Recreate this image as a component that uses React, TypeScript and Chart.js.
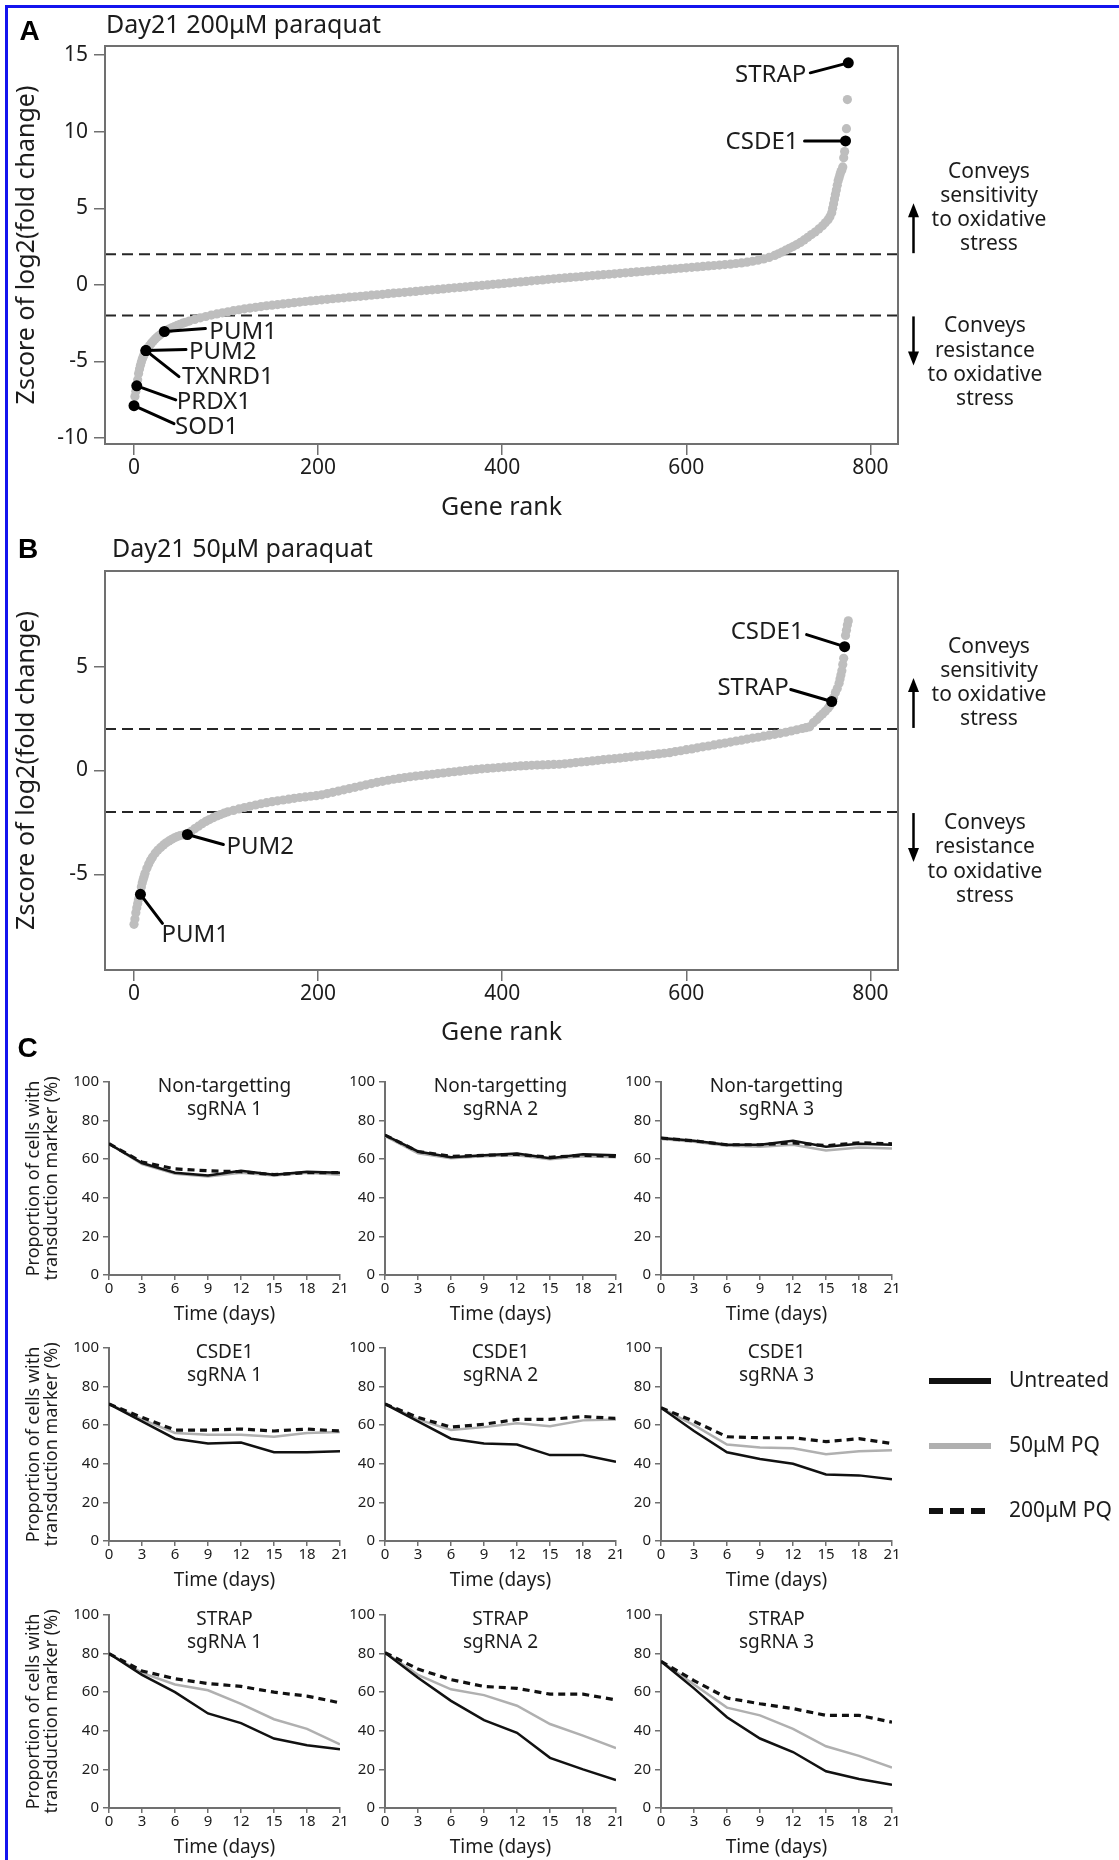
import React, { useEffect, useRef } from 'react';
import { Chart, registerables } from 'chart.js';

Chart.register(...registerables);

const FONT = '"Noto Sans", "DejaVu Sans", sans-serif';
const LETTER_FONT = '"Liberation Sans", Arial, sans-serif';
const INK = '#1c1c1c';
const AXIS_GREY = '#707070';
const POINT_GREY = '#bebebe';
const FRAME_BLUE = '#1414ee';

// ---------------- Panel A: Day21 200uM paraquat (gene rank, z-score) ----------------
const genesA: [number, number][] = [
  [1, -7.3], [2, -6.95], [4, -6.2], [5, -5.8], [6, -5.5], [7, -5.25], [8, -5.05], [9, -4.85],
  [10, -4.7], [11, -4.55], [12, -4.42], [14, -4.22], [15, -4.12], [17, -3.96], [19, -3.81],
  [21, -3.67], [23, -3.54], [25, -3.43], [27, -3.33], [29, -3.23], [31, -3.14], [35, -2.98],
  [38, -2.89], [41, -2.81], [44, -2.73], [47, -2.65], [50, -2.58], [53, -2.51], [56, -2.45],
  [60, -2.37], [66, -2.26], [72, -2.16], [78, -2.07], [84, -1.98], [90, -1.9], [96, -1.83],
  [102, -1.76], [108, -1.69], [114, -1.63], [120, -1.57], [126, -1.52], [132, -1.47],
  [138, -1.42], [144, -1.37], [150, -1.33], [156, -1.29], [162, -1.25], [168, -1.21],
  [174, -1.17], [180, -1.13], [186, -1.09], [192, -1.05], [198, -1.02], [204, -0.98],
  [210, -0.95], [216, -0.91], [222, -0.88], [228, -0.85], [234, -0.81], [240, -0.78],
  [246, -0.75], [252, -0.72], [258, -0.68], [264, -0.65], [270, -0.62], [276, -0.58],
  [282, -0.55], [288, -0.52], [294, -0.49], [300, -0.46], [306, -0.43], [312, -0.39],
  [318, -0.36], [324, -0.33], [330, -0.3], [336, -0.27], [342, -0.23], [348, -0.2],
  [354, -0.17], [360, -0.14], [366, -0.1], [372, -0.07], [378, -0.04], [384, -0.01],
  [390, 0.03], [396, 0.06], [402, 0.09], [408, 0.12], [414, 0.16], [420, 0.19], [426, 0.22],
  [432, 0.26], [438, 0.29], [444, 0.32], [450, 0.36], [456, 0.39], [462, 0.42], [468, 0.45],
  [474, 0.48], [480, 0.51], [486, 0.54], [492, 0.57], [498, 0.6], [504, 0.63], [510, 0.66],
  [516, 0.69], [522, 0.72], [528, 0.75], [534, 0.78], [540, 0.81], [546, 0.84], [552, 0.87],
  [558, 0.9], [564, 0.93], [570, 0.96], [576, 0.99], [582, 1.02], [588, 1.05], [594, 1.08],
  [600, 1.11], [606, 1.14], [612, 1.17], [618, 1.2], [624, 1.23], [630, 1.26], [636, 1.29],
  [642, 1.32], [648, 1.35], [654, 1.39], [660, 1.43], [666, 1.48], [672, 1.54], [678, 1.61],
  [684, 1.69], [690, 1.79], [696, 1.92], [700, 2.03], [704, 2.14], [708, 2.26], [712, 2.38],
  [716, 2.5], [720, 2.63], [724, 2.77], [728, 2.93], [732, 3.1], [736, 3.28], [740, 3.45],
  [744, 3.65], [748, 3.85], [751, 4.05], [754, 4.25], [756, 4.45], [758, 4.7], [759, 5.0],
  [760, 5.3], [761, 5.6], [762, 5.9], [763, 6.2], [764, 6.5], [765, 6.8], [766, 7.0],
  [767, 7.2], [768, 7.4], [769, 7.5], [770, 7.7], [771, 8.3], [772, 8.7], [774, 10.2], [775, 12.1],
];
const hitNamesA = ['SOD1', 'PRDX1', 'TXNRD1', 'PUM2', 'PUM1', 'CSDE1', 'STRAP'];
const hitRanksA = [0, 3, 13, 13, 33, 773, 776];
const hitZA = [-7.9, -6.6, -4.3, -4.3, -3.05, 9.4, 14.5];

// ---------------- Panel B: Day21 50uM paraquat ----------------
const genesB: [number, number][] = [
  [0, -7.4], [1, -7.15], [2, -6.85], [3, -6.6], [4, -6.4], [5, -6.2], [6, -6.05], [8, -5.6],
  [9, -5.4], [10, -5.25], [11, -5.1], [12, -4.95], [14, -4.7], [16, -4.5], [18, -4.32],
  [20, -4.17], [23, -3.98], [26, -3.83], [29, -3.7], [32, -3.58], [35, -3.48], [38, -3.39],
  [41, -3.31], [44, -3.24], [47, -3.18], [50, -3.13], [54, -3.1], [62, -2.93], [66, -2.8],
  [70, -2.68], [74, -2.56], [78, -2.45], [82, -2.36], [86, -2.27], [90, -2.19], [94, -2.12],
  [98, -2.05], [102, -1.99], [108, -1.92], [114, -1.85], [120, -1.78], [126, -1.72],
  [132, -1.66], [138, -1.6], [144, -1.55], [150, -1.5], [156, -1.46], [162, -1.42],
  [168, -1.38], [174, -1.34], [180, -1.3], [186, -1.27], [192, -1.24], [198, -1.21],
  [204, -1.17], [210, -1.11], [216, -1.05], [222, -0.99], [228, -0.93], [234, -0.87],
  [240, -0.81], [246, -0.75], [252, -0.69], [258, -0.63], [264, -0.57], [270, -0.52],
  [276, -0.47], [282, -0.42], [288, -0.38], [294, -0.34], [300, -0.3], [306, -0.27],
  [312, -0.24], [318, -0.21], [324, -0.18], [330, -0.15], [336, -0.12], [342, -0.09],
  [348, -0.06], [354, -0.03], [360, 0.0], [366, 0.03], [372, 0.05], [378, 0.08], [384, 0.1],
  [390, 0.12], [396, 0.14], [402, 0.16], [408, 0.18], [414, 0.2], [420, 0.22], [426, 0.23],
  [432, 0.25], [438, 0.26], [444, 0.27], [450, 0.28], [456, 0.29], [462, 0.3], [468, 0.32],
  [474, 0.35], [480, 0.38], [486, 0.41], [492, 0.43], [498, 0.46], [504, 0.49], [510, 0.52],
  [516, 0.55], [522, 0.57], [528, 0.6], [534, 0.63], [540, 0.66], [546, 0.69], [552, 0.71],
  [558, 0.74], [564, 0.77], [570, 0.8], [576, 0.83], [582, 0.86], [588, 0.91], [594, 0.95],
  [600, 1.0], [606, 1.04], [612, 1.09], [618, 1.14], [624, 1.18], [630, 1.23], [636, 1.28],
  [642, 1.32], [648, 1.37], [654, 1.42], [660, 1.46], [666, 1.51], [672, 1.56], [678, 1.6],
  [684, 1.65], [690, 1.7], [696, 1.74], [702, 1.79], [708, 1.84], [714, 1.9], [720, 1.96],
  [726, 2.02], [730, 2.06], [734, 2.1], [738, 2.3], [742, 2.45], [745, 2.6], [748, 2.72],
  [751, 2.85], [754, 3.0], [756, 3.12], [760, 3.5], [762, 3.75], [764, 3.95], [766, 4.2],
  [767, 4.4], [768, 4.6], [769, 4.8], [770, 5.1], [771, 5.4], [773, 6.5], [774, 6.75],
  [775, 7.0], [776, 7.2],
];
const hitNamesB = ['PUM1', 'PUM2', 'STRAP', 'CSDE1'];
const hitRanksB = [7, 58, 758, 772];
const hitZB = [-5.96, -3.08, 3.32, 5.96];

const THRESHOLDS = [2, -2];
const SENSITIVITY_NOTE = ['Conveys', 'sensitivity', 'to oxidative', 'stress'];
const RESISTANCE_NOTE = ['Conveys', 'resistance', 'to oxidative', 'stress'];

// ---------------- Panel C: proportion of transduced cells over time ----------------
const DAYS = [0, 3, 6, 9, 12, 15, 18, 21];
const TARGETS = ['Non-targetting', 'CSDE1', 'STRAP'];
const GUIDES = ['sgRNA 1', 'sgRNA 2', 'sgRNA 3'];
const LEGEND_LABELS = ['Untreated', '50μM PQ', '200μM PQ'];
// order: NT1, NT2, NT3, CSDE1-1, CSDE1-2, CSDE1-3, STRAP-1, STRAP-2, STRAP-3
const UNTREATED = [
  [68, 58, 53, 51.5, 54, 52, 53.5, 53],
  [72.5, 64, 61, 62, 63, 60.5, 62.5, 62],
  [71, 69.5, 67.5, 67.5, 69.5, 66.5, 68, 67.5],
  [71, 62, 53, 50.5, 51, 46, 46, 46.5],
  [71, 62, 53, 50.5, 50, 44.5, 44.5, 41],
  [69, 57, 46, 42.5, 40, 34.5, 34, 32],
  [80, 69, 60, 49, 44, 36, 32.5, 30.5],
  [80.5, 67.5, 55.5, 45.5, 39, 26, 20, 14.5],
  [76, 62, 47, 36, 29, 19, 15, 12],
];
const PQ50 = [
  [68, 57.5, 52.5, 51, 53, 51.5, 53, 52],
  [72, 63, 60.5, 61.5, 62, 60, 61.5, 61],
  [70.5, 69, 67, 66.5, 67.5, 64.5, 66, 65.5],
  [71, 63, 56, 55, 55, 54, 56, 56.5],
  [71, 63, 57.5, 59, 61, 59.5, 62.5, 63],
  [69, 60, 50, 48.5, 48, 45, 46.5, 47],
  [80, 70, 64, 61, 54, 46, 41, 33],
  [80.5, 69, 61.5, 58.5, 53, 43.5, 37.5, 31],
  [76, 64, 52, 48, 41, 32, 27, 21],
];
const PQ200 = [
  [68, 58.5, 55, 54, 53.5, 52, 53, 53],
  [72.5, 64, 61.5, 62, 62.5, 61, 62, 61.5],
  [71, 69.5, 67.5, 67.5, 68.5, 67, 68.5, 68],
  [71, 64, 57.5, 57.5, 58, 57, 58, 57],
  [71, 64, 59, 60.5, 63, 63, 64.5, 63.5],
  [69, 62, 54, 53.5, 53.5, 51.5, 53, 50.5],
  [80, 71, 67, 64.5, 63, 60, 58, 54.5],
  [80.5, 72, 66.5, 63, 62, 59, 59, 56],
  [76, 66, 57, 54, 51.5, 48, 48, 44.5],
];

// ---------------- label placement (pixel offsets from the marked point) ----------------
type LabelStyle = { lx: number; ly: number; tx: number; ty: number; align: 'left' | 'right' };
const LABELS_A: Record<string, LabelStyle> = {
  SOD1: { lx: 40, ly: 18, tx: 41, ty: 21, align: 'left' },
  PRDX1: { lx: 39, ly: 14, tx: 40, ty: 16, align: 'left' },
  TXNRD1: { lx: 33, ly: 26, tx: 36, ty: 27, align: 'left' },
  PUM2: { lx: 40, ly: -1, tx: 43, ty: 2, align: 'left' },
  PUM1: { lx: 41, ly: -3, tx: 45, ty: 1, align: 'left' },
  CSDE1: { lx: -41, ly: 0, tx: -47, ty: 1, align: 'right' },
  STRAP: { lx: -38, ly: 10, tx: -42, ty: 12, align: 'right' },
};
const LABELS_B: Record<string, LabelStyle> = {
  PUM1: { lx: 22, ly: 29, tx: 21, ty: 41, align: 'left' },
  PUM2: { lx: 36, ly: 10, tx: 39, ty: 13, align: 'left' },
  STRAP: { lx: -41, ly: -12, tx: -43, ty: -13, align: 'right' },
  CSDE1: { lx: -38, ly: -12, tx: -41, ty: -14, align: 'right' },
};

const W = 1119;
const H = 1860;

function drawArrow(ctx: CanvasRenderingContext2D, x: number, from: number, to: number) {
  const dir = Math.sign(to - from);
  ctx.strokeStyle = '#000';
  ctx.fillStyle = '#000';
  ctx.lineWidth = 2.5;
  ctx.setLineDash([]);
  ctx.beginPath();
  ctx.moveTo(x, from);
  ctx.lineTo(x, to - dir * 10);
  ctx.stroke();
  ctx.beginPath();
  ctx.moveTo(x, to);
  ctx.lineTo(x - 5.5, to - dir * 14);
  ctx.lineTo(x + 5.5, to - dir * 14);
  ctx.closePath();
  ctx.fill();
}

type ScatterPanel = {
  letter: string; letterX: number; letterBaseline: number;
  title: string; titleX: number; titleBaseline: number;
  padTop: number; xAxisHeight: number; xTitlePad: number;
  yMin: number; yMax: number;
  genes: [number, number][];
  hitNames: string[]; hitRanks: number[]; hitZ: number[];
  labels: Record<string, LabelStyle>;
};

function scatterConfig(p: ScatterPanel): any {
  const decor = {
    id: 'scatterDecor',
    beforeDatasetsDraw(chart: any) {
      const { ctx, chartArea: a, scales } = chart;
      ctx.save();
      ctx.strokeStyle = '#262626';
      ctx.lineWidth = 2;
      ctx.setLineDash([11, 6]);
      for (const t of THRESHOLDS) {
        const py = scales.y.getPixelForValue(t);
        ctx.beginPath();
        ctx.moveTo(a.left, py);
        ctx.lineTo(a.right, py);
        ctx.stroke();
      }
      ctx.restore();
    },
    afterDatasetsDraw(chart: any) {
      const { ctx, scales } = chart;
      ctx.save();
      ctx.strokeStyle = '#000';
      ctx.lineWidth = 3;
      ctx.lineCap = 'round';
      ctx.fillStyle = INK;
      ctx.font = `24px ${FONT}`;
      ctx.textBaseline = 'middle';
      p.hitNames.forEach((name, i) => {
        const px = scales.x.getPixelForValue(p.hitRanks[i]);
        const py = scales.y.getPixelForValue(p.hitZ[i]);
        const s = p.labels[name];
        ctx.beginPath();
        ctx.moveTo(px, py);
        ctx.lineTo(px + s.lx, py + s.ly);
        ctx.stroke();
        ctx.textAlign = s.align;
        ctx.fillText(name, px + s.tx, py + s.ty);
      });
      ctx.restore();
    },
    afterDraw(chart: any) {
      const { ctx, chartArea: a, scales } = chart;
      ctx.save();
      ctx.strokeStyle = AXIS_GREY;
      ctx.lineWidth = 2;
      ctx.strokeRect(a.left, a.top, a.right - a.left, a.bottom - a.top);
      ctx.fillStyle = '#000';
      ctx.font = `bold 28px ${LETTER_FONT}`;
      ctx.textAlign = 'center';
      ctx.textBaseline = 'alphabetic';
      ctx.fillText(p.letter, p.letterX, p.letterBaseline);
      ctx.fillStyle = INK;
      ctx.font = `25px ${FONT}`;
      ctx.textAlign = 'left';
      ctx.fillText(p.title, p.titleX, p.titleBaseline);
      const yUp = scales.y.getPixelForValue(THRESHOLDS[0]);
      const yDn = scales.y.getPixelForValue(THRESHOLDS[1]);
      const ax = a.right + 15.5;
      drawArrow(ctx, ax, yUp - 1, yUp - 51);
      drawArrow(ctx, ax, yDn + 1, yDn + 50);
      ctx.fillStyle = INK;
      ctx.font = `21px ${FONT}`;
      ctx.textAlign = 'center';
      ctx.textBaseline = 'middle';
      SENSITIVITY_NOTE.forEach((t, i) => ctx.fillText(t, a.right + 91, yUp - 82 + 24 * i));
      RESISTANCE_NOTE.forEach((t, i) => ctx.fillText(t, a.right + 87, yDn + 11 + 24.3 * i));
      ctx.restore();
    },
  };
  return {
    type: 'scatter',
    data: {
      datasets: [
        {
          label: 'Highlighted genes',
          data: p.hitRanks.map((r, i) => ({ x: r, y: p.hitZ[i] })),
          backgroundColor: '#000',
          borderWidth: 0,
          pointRadius: 5.5,
          order: 0,
        },
        {
          label: 'Genes',
          data: p.genes.map(([r, z]) => ({ x: r, y: z })),
          backgroundColor: POINT_GREY,
          borderWidth: 0,
          pointRadius: 4.6,
          order: 1,
        },
      ],
    },
    options: {
      animation: false,
      responsive: false,
      events: [],
      layout: { padding: { left: 10, top: p.padTop, right: W - 898, bottom: 0 } },
      plugins: { legend: { display: false }, tooltip: { enabled: false } },
      scales: {
        x: {
          type: 'linear',
          min: -31.5,
          max: 830,
          ticks: { stepSize: 200, includeBounds: false, font: { family: FONT, size: 21 }, color: INK, padding: 0, maxRotation: 0 },
          grid: { drawOnChartArea: false, drawTicks: true, tickLength: 11, color: AXIS_GREY, lineWidth: 1.5 },
          border: { display: false },
          title: { display: true, text: 'Gene rank', font: { family: FONT, size: 25 }, color: INK, padding: { top: 0, bottom: p.xTitlePad } },
          afterFit: (s: any) => { s.height = p.xAxisHeight; },
        },
        y: {
          type: 'linear',
          min: p.yMin,
          max: p.yMax,
          ticks: { stepSize: 5, includeBounds: false, font: { family: FONT, size: 21 }, color: INK, padding: 6 },
          grid: { drawOnChartArea: false, drawTicks: true, tickLength: 11, color: AXIS_GREY, lineWidth: 1.5 },
          border: { display: false },
          title: { display: true, text: 'Zscore of log2(fold change)', font: { family: FONT, size: 25 }, color: INK, padding: { top: 2, bottom: 0 } },
          afterFit: (s: any) => { s.width = 95; },
        },
      },
    },
    plugins: [decor],
  };
}

const PANEL_A: ScatterPanel = {
  letter: 'A', letterX: 29.5, letterBaseline: 40,
  title: 'Day21 200μM paraquat', titleX: 106, titleBaseline: 33,
  padTop: 46, xAxisHeight: 86, xTitlePad: 7,
  yMin: -10.4, yMax: 15.6,
  genes: genesA, hitNames: hitNamesA, hitRanks: hitRanksA, hitZ: hitZA, labels: LABELS_A,
};
const PANEL_B: ScatterPanel = {
  letter: 'B', letterX: 28, letterBaseline: 28,
  title: 'Day21 50μM paraquat', titleX: 112, titleBaseline: 27,
  padTop: 41, xAxisHeight: 90, xTitlePad: 12,
  yMin: -9.6, yMax: 9.6,
  genes: genesB, hitNames: hitNamesB, hitRanks: hitRanksB, hitZ: hitZB, labels: LABELS_B,
};

// ---------------- Panel C layout ----------------
const COL_X0 = [109, 385, 661];
const ROW_Y100 = [1082, 1348, 1615];
const C_PAD_TOP = 50;
const C_PLOT_H = 193;
const C_XAXIS_H = 53;

function lineConfig(idx: number, canvasTop: number): any {
  const row = Math.floor(idx / 3);
  const col = idx % 3;
  const series = (vals: number[]) => DAYS.map((d, i) => ({ x: d, y: vals[i] }));
  const decor = {
    id: 'subplotDecor',
    afterDraw(chart: any) {
      const { ctx, chartArea: a } = chart;
      ctx.save();
      ctx.fillStyle = INK;
      ctx.font = `19px ${FONT}`;
      ctx.textAlign = 'center';
      ctx.textBaseline = 'middle';
      const cx = (a.left + a.right) / 2;
      ctx.fillText(TARGETS[row], cx, a.top + 4.5);
      ctx.fillText(GUIDES[col], cx, a.top + 27.5);
      if (idx === 0) {
        ctx.fillStyle = '#000';
        ctx.font = `bold 28px ${LETTER_FONT}`;
        ctx.textBaseline = 'alphabetic';
        ctx.fillText('C', 27.5, 1057 - canvasTop);
      }
      if (idx === 5) {
        const mid = (a.top + a.bottom) / 2;
        const ys = [mid - 63.5, mid + 1.5, mid + 66.5];
        const x0 = a.right + 37;
        const colors = ['#111', '#b0b0b0', '#111'];
        ys.forEach((yy, i) => {
          ctx.strokeStyle = colors[i];
          ctx.lineWidth = 6;
          ctx.lineCap = 'butt';
          ctx.setLineDash(i === 2 ? [14, 7] : []);
          ctx.beginPath();
          ctx.moveTo(x0, yy);
          ctx.lineTo(i === 2 ? x0 + 56 : x0 + 62, yy);
          ctx.stroke();
          ctx.setLineDash([]);
          ctx.fillStyle = INK;
          ctx.font = `21px ${FONT}`;
          ctx.textAlign = 'left';
          ctx.textBaseline = 'middle';
          ctx.fillText(LEGEND_LABELS[i], a.right + 117, yy);
        });
      }
      ctx.restore();
    },
  };
  const canvasWidth = col === 2 ? W - (COL_X0[col] - 109) : 360;
  return {
    type: 'line',
    data: {
      datasets: [
        { label: LEGEND_LABELS[0], data: series(UNTREATED[idx]), borderColor: '#111', borderWidth: 2.5, pointRadius: 0, tension: 0, order: 0 },
        { label: LEGEND_LABELS[2], data: series(PQ200[idx]), borderColor: '#111', borderWidth: 3.2, borderDash: [7, 5], pointRadius: 0, tension: 0, order: 1 },
        { label: LEGEND_LABELS[1], data: series(PQ50[idx]), borderColor: '#b0b0b0', borderWidth: 2.5, pointRadius: 0, tension: 0, order: 2 },
      ],
    },
    options: {
      animation: false,
      responsive: false,
      events: [],
      layout: { padding: { left: 0, top: C_PAD_TOP, right: canvasWidth - 109 - 231, bottom: 0 } },
      plugins: { legend: { display: false }, tooltip: { enabled: false } },
      scales: {
        x: {
          type: 'linear',
          min: 0,
          max: 21,
          ticks: { stepSize: 3, autoSkip: false, font: { family: FONT, size: 15 }, color: INK, padding: 0, maxRotation: 0 },
          grid: { drawOnChartArea: false, drawTicks: true, tickLength: 5, color: AXIS_GREY, lineWidth: 1.5 },
          border: { display: true, color: AXIS_GREY, width: 2 },
          title: { display: true, text: 'Time (days)', font: { family: FONT, size: 19 }, color: INK, padding: { top: 0, bottom: 2 } },
          afterFit: (s: any) => { s.height = C_XAXIS_H; },
        },
        y: {
          type: 'linear',
          min: 0,
          max: 100,
          ticks: { stepSize: 20, font: { family: FONT, size: 15 }, color: INK, padding: 4 },
          grid: { drawOnChartArea: false, drawTicks: true, tickLength: 6, color: AXIS_GREY, lineWidth: 1.5 },
          border: { display: true, color: AXIS_GREY, width: 2 },
          title: {
            display: col === 0,
            text: ['Proportion of cells with', 'transduction marker (%)'],
            font: { family: FONT, size: 18, lineHeight: 1 },
            color: INK,
            padding: { top: 25, bottom: 0 },
          },
          afterFit: (s: any) => { s.width = 109; },
        },
      },
    },
    plugins: [decor],
  };
}

function ChartCanvas(props: { left: number; top: number; width: number; height: number; build: () => any }) {
  const ref = useRef<HTMLCanvasElement | null>(null);
  useEffect(() => {
    const chart = new Chart(ref.current as HTMLCanvasElement, props.build());
    return () => chart.destroy();
  }, []);
  return (
    <canvas
      ref={ref}
      width={props.width}
      height={props.height}
      style={{ position: 'absolute', left: props.left, top: props.top, width: props.width, height: props.height }}
    />
  );
}

export default function App() {
  useEffect(() => {
    document.body.style.margin = '0';
    document.body.style.overflow = 'hidden';
  }, []);
  const cCharts = [] as any[];
  for (let idx = 0; idx < 9; idx++) {
    const row = Math.floor(idx / 3);
    const col = idx % 3;
    const left = COL_X0[col] - 109;
    const top = ROW_Y100[row] - C_PAD_TOP;
    const width = col === 2 ? W - left : 360;
    const height = C_PAD_TOP + C_PLOT_H + C_XAXIS_H;
    cCharts.push(
      <ChartCanvas key={`c${idx}`} left={left} top={top} width={width} height={height} build={() => lineConfig(idx, top)} />
    );
  }
  return (
    <div style={{ position: 'absolute', left: 0, top: 0, width: W, height: H, background: '#fff', overflow: 'hidden' }}>
      <div style={{ position: 'absolute', left: 5, top: 5, right: 0, height: 3, background: FRAME_BLUE }} />
      <div style={{ position: 'absolute', left: 5, top: 5, width: 3, bottom: 0, background: FRAME_BLUE }} />
      <ChartCanvas left={0} top={0} width={W} height={530} build={() => scatterConfig(PANEL_A)} />
      <ChartCanvas left={0} top={530} width={W} height={530} build={() => scatterConfig(PANEL_B)} />
      {cCharts}
    </div>
  );
}
